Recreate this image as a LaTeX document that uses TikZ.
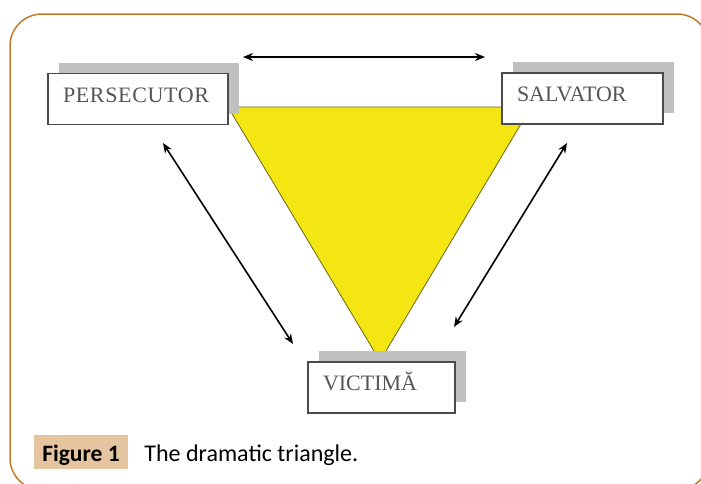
\documentclass[tikz,border=0pt]{standalone}
\usepackage{fontspec}
\setmainfont{Liberation Serif}
\newfontfamily\capfont{Carlito}
\usepackage{tikz}
\usetikzlibrary{arrows.meta,positioning,shadows}
\definecolor{framebrown}{RGB}{196,122,38}
\definecolor{captan}{RGB}{228,197,160}
\definecolor{triyellow}{RGB}{244,230,18}
\definecolor{triedge}{RGB}{110,100,20}
\definecolor{boxedge}{RGB}{75,75,75}
\definecolor{boxtext}{RGB}{85,85,85}
\definecolor{shadowgray}{RGB}{192,192,192}

\begin{document}
\begin{tikzpicture}[x=1pt,y=-1pt,
  role/.style={draw=boxedge,line width=1.3pt,fill=white,text=boxtext,
               font=\fontsize{22}{24}\selectfont,align=left,inner xsep=15pt,
               text height=15pt,text depth=9pt,minimum height=51pt,text width=#1,
               general shadow={fill=shadowgray,shadow xshift=10.5pt,shadow yshift=11pt}},
  arr/.style={{Stealth[length=10pt,width=8pt]}-{Stealth[length=10pt,width=8pt]},line width=1.6pt},
  figtag/.style={fill=captan,font=\capfont\bfseries\fontsize{23.5}{25}\selectfont,
                 minimum width=94pt,minimum height=34pt,text height=18pt,text depth=0pt,inner sep=0pt},
  captxt/.style={font=\capfont\fontsize{24}{26}\selectfont,inner sep=0pt}
]
\useasboundingbox (0,0) rectangle (701,483);
\begin{scope}
  \clip (0,0) rectangle (701,483);
  \draw[framebrown,line width=1.5pt,rounded corners=32pt] (10,14) rectangle (709,490);
\end{scope}

% triangle
\coordinate (tl) at (228,107);
\coordinate (tr) at (531,107);
\coordinate (ap) at (380,361);
\draw[fill=triyellow,draw=triedge,line width=0.8pt] (tl) -- (tr) -- (ap) -- cycle;

\node[role=150pt] (pers) at (138,99)   {\addfontfeatures{LetterSpace=3}PERSECUTOR};
\node[role=131pt] (salv) at (582.5,98.5) {SALVATOR};
\node[role=117pt] (vict) at (381.5,387.5) {VICTIMĂ};

\coordinate (t1) at (243,57);  \coordinate (t2) at (485,57);
\coordinate (l1) at (163,143); \coordinate (l2) at (293,344);
\coordinate (r1) at (567,143); \coordinate (r2) at (454,327);
\draw[arr] (t1) -- (t2);
\draw[arr] (l1) -- (l2);
\draw[arr] (r1) -- (r2);

\node[figtag] (fig) at (81,452) {Figure 1};
\node[captxt,anchor=base west] (cap) at ([xshift=16pt]fig.base east) {The dramatic triangle.};
\end{tikzpicture}
\end{document}
